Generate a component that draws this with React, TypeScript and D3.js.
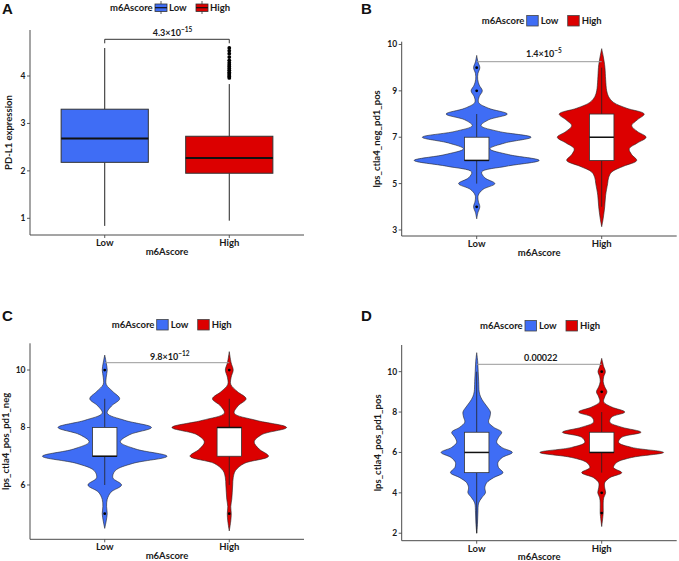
import React from "react";
import * as d3 from "d3";

// ---------- data ----------
const GROUPS = ["Low", "High"];
const FILLS = ["#3F6DF5", "#DC0000"];
const LEGEND_TITLE = "m6Ascore";

// Panel A (boxplot): [min, q1, median, q3, max]
const A_TICKS = [1, 2, 3, 4];
const A_BOX_LOW = [0.84, 2.18, 2.68, 3.3, 4.59];
const A_BOX_HIGH = [0.95, 1.95, 2.27, 2.73, 3.83];
const A_OUT_LOW: number[] = [];
const A_OUT_HIGH = [3.96, 3.99, 4.02, 4.05, 4.08, 4.12, 4.16, 4.2, 4.24, 4.28, 4.33, 4.4, 4.47, 4.53, 4.59];
const A_P = ["4.3×10", "−15"];
const A_YLABEL = "PD-L1 expression";

// Panel B (violin)
const B_TICKS = [3, 5, 7, 9, 11];
const B_TICK_LABELS = ["3", "5", "7", "9", "10"];
const B_LOW_Y = [10.53, 10.25, 10, 9.75, 9.5, 9.25, 9, 8.75, 8.5, 8.25, 8, 7.75, 7.5, 7.25, 7, 6.75, 6.5, 6.25, 6, 5.75, 5.5, 5.25, 5, 4.75, 4.5, 4.25, 4, 3.75, 3.48];
const B_LOW_D = [0, 0.02, 0.05, 0.02, 0.016, 0.04, 0.09, 0.04, 0.03, 0.19, 0.49, 0.19, 0.07, 0.35, 0.87, 0.45, 0.21, 0.51, 1.0, 0.48, 0.08, 0.13, 0.29, 0.1, 0.025, 0.025, 0.05, 0.02, 0];
const B_HIGH_Y = [10.82, 10.5, 10.25, 10, 9.5, 9, 8.75, 8.5, 8.25, 8, 7.75, 7.5, 7.25, 7, 6.75, 6.5, 6.25, 6, 5.75, 5.5, 5.25, 5, 4.5, 4, 3.5, 3.14];
const B_HIGH_D = [0, 0.024, 0.04, 0.052, 0.063, 0.08, 0.11, 0.19, 0.4, 0.68, 0.57, 0.48, 0.57, 0.71, 0.57, 0.44, 0.48, 0.56, 0.35, 0.16, 0.11, 0.095, 0.063, 0.048, 0.024, 0];
const B_BOX_LOW = [5, 6, 6, 7, 8];
const B_BOX_HIGH = [4, 6, 7, 8, 10];
const B_OUT_LOW = [4, 9, 10];
const B_OUT_HIGH: number[] = [];
const B_P = ["1.4×10", "−5"];
const B_YLABEL = "lps_ctla4_neg_pd1_pos";

// Panel C (violin)
const C_TICKS = [6, 8, 10];
const C_LOW_Y = [10.52, 10.25, 10, 9.75, 9.5, 9.25, 9, 8.75, 8.5, 8.25, 8, 7.75, 7.5, 7.25, 7, 6.75, 6.5, 6.25, 6, 5.75, 5.5, 5.25, 5, 4.75, 4.49];
const C_LOW_D = [0, 0.024, 0.04, 0.024, 0.024, 0.13, 0.24, 0.11, 0.04, 0.32, 0.75, 0.4, 0.25, 0.5, 1.0, 0.45, 0.17, 0.13, 0.27, 0.1, 0.04, 0.03, 0.04, 0.024, 0];
const C_HIGH_Y = [10.64, 10.25, 10, 9.75, 9.5, 9.25, 9, 8.75, 8.5, 8.25, 8, 7.75, 7.5, 7.25, 7, 6.75, 6.5, 6.25, 6, 5.75, 5.5, 5.25, 5, 4.75, 4.4];
const C_HIGH_D = [0, 0.03, 0.063, 0.03, 0.024, 0.13, 0.27, 0.14, 0.08, 0.43, 0.92, 0.52, 0.4, 0.48, 0.63, 0.24, 0.1, 0.063, 0.055, 0.048, 0.04, 0.024, 0.032, 0.024, 0];
const C_BOX_LOW = [6, 7, 7, 8, 9];
const C_BOX_HIGH = [6, 7, 8, 8, 9];
const C_OUT_LOW = [5, 10];
const C_OUT_HIGH = [5, 10];
const C_P = ["9.8×10", "−12"];
const C_YLABEL = "lps_ctla4_pos_pd1_neg";

// Panel D (violin)
const D_TICKS = [2, 4, 6, 8, 10];
const D_LOW_Y = [10.94, 10.5, 10, 9.5, 9, 8.75, 8.5, 8.25, 8, 7.75, 7.5, 7.25, 7, 6.75, 6.5, 6.25, 6, 5.75, 5.5, 5.25, 5, 4.75, 4.5, 4.25, 4, 3.75, 3.5, 3, 2.5, 2.0];
const D_LOW_D = [0, 0.016, 0.024, 0.032, 0.04, 0.063, 0.11, 0.17, 0.22, 0.21, 0.19, 0.27, 0.4, 0.35, 0.32, 0.4, 0.57, 0.41, 0.34, 0.35, 0.42, 0.27, 0.16, 0.13, 0.14, 0.08, 0.032, 0.019, 0.013, 0];
const D_HIGH_Y = [10.66, 10.25, 10, 9.75, 9.5, 9.25, 9, 8.75, 8.5, 8.25, 8, 7.75, 7.5, 7.25, 7, 6.75, 6.5, 6.25, 6, 5.75, 5.5, 5.25, 5, 4.75, 4.5, 4.25, 4, 3.75, 3.5, 3.25, 3, 2.33];
const D_HIGH_D = [0, 0.032, 0.059, 0.032, 0.024, 0.048, 0.084, 0.048, 0.032, 0.16, 0.37, 0.16, 0.13, 0.32, 0.63, 0.32, 0.27, 0.48, 0.99, 0.48, 0.24, 0.19, 0.32, 0.13, 0.048, 0.048, 0.063, 0.032, 0.024, 0.024, 0.024, 0];
const D_BOX_LOW = [2, 5, 6, 7, 10];
const D_BOX_HIGH = [5, 6, 6, 7, 8];
const D_OUT_LOW: number[] = [];
const D_OUT_HIGH = [3, 4, 9, 10];
const D_P = ["0.00022", ""];
const D_YLABEL = "lps_ctla4_pos_pd1_pos";

// ---------- style / layout ----------
const FONT = "Lato, 'Open Sans', sans-serif";
const TXT = "#1a1a1a";
const AXIS = "#4a4a4a";

type PanelProps = {
  letter: string;
  left: number; right: number; top: number; bottom: number;
  domain: [number, number];
  ticks: number[]; tickLabels?: string[];
  ylabel: string; ylabelX: number;
  kind: "box" | "violin";
  boxes: number[][]; outliers: number[][];
  vy?: number[][]; vd?: number[][];
  p: string[]; pY: number; pX: number; pAnchor: "start" | "middle";
  bracketY: number; bracketTicks: boolean;
  legendY: number; legendX: number;
  letterX: number; letterY: number;
};

function Panel(pr: PanelProps) {
  const y = d3.scaleLinear().domain(pr.domain).range([pr.bottom, pr.top]);
  const x = d3.scalePoint<string>().domain(GROUPS).range([pr.left, pr.right]).padding(0.6);
  const step = x.step();
  const w = d3.scaleLinear().domain([0, 1]).range([0, step * 0.5]);
  const bw = pr.kind === "box" ? step * 0.7 : step * 0.196;
  const area = d3
    .area<[number, number]>()
    .y((d) => y(d[0]))
    .x0((d) => -w(d[1]))
    .x1((d) => w(d[1]))
    .curve(d3.curveCatmullRom.alpha(0.5));
  const cxs = GROUPS.map((g) => x(g) as number);
  const lx = pr.legendX;
  return (
    <g fontFamily={FONT} fontWeight={700}>
      <text x={pr.letterX} y={pr.letterY} fontFamily="'Liberation Sans', Arial, sans-serif" fontWeight={700} fontSize={15} fill="#111">
        {pr.letter}
      </text>
      {/* legend */}
      <g>
        <text x={lx} y={pr.legendY + 3.3} fontSize={9.5} fill={TXT}>{LEGEND_TITLE}</text>
        {GROUPS.map((g, i) => {
          const kx = lx + 45 + i * 41;
          const ky = pr.legendY - 5;
          return (
            <g key={g}>
              {pr.kind === "box" ? (
                <g>
                  <line x1={kx + 6} x2={kx + 6} y1={ky - 1.5} y2={ky + 11.5} stroke="#333" strokeWidth={0.8} />
                  <rect x={kx} y={ky + 1.5} width={12} height={7.5} fill={FILLS[i]} stroke="#333" strokeWidth={0.8} />
                  <line x1={kx} x2={kx + 12} y1={ky + 5.2} y2={ky + 5.2} stroke="#111" strokeWidth={1.2} />
                </g>
              ) : (
                <rect x={kx} y={ky} width={11.5} height={10.5} fill={FILLS[i]} stroke="#444" strokeWidth={0.8} />
              )}
              <text x={kx + 14} y={pr.legendY + 3.3} fontSize={9.5} fill={TXT}>{g}</text>
            </g>
          );
        })}
      </g>
      {/* axes */}
      <line x1={pr.left} x2={pr.left} y1={pr.top} y2={pr.bottom} stroke={AXIS} strokeWidth={1} />
      <line x1={pr.left} x2={pr.right} y1={pr.bottom} y2={pr.bottom} stroke={AXIS} strokeWidth={1} />
      {pr.ticks.map((t, i) => (
        <g key={t}>
          <line x1={pr.left - 3} x2={pr.left} y1={y(t)} y2={y(t)} stroke={AXIS} strokeWidth={0.9} />
          <text x={pr.left - 4.5} y={y(t)} dy="0.35em" textAnchor="end" fontSize={8.5} fill={TXT}>
            {pr.tickLabels ? pr.tickLabels[i] : String(t)}
          </text>
        </g>
      ))}
      {GROUPS.map((g, i) => (
        <g key={g}>
          <line x1={cxs[i]} x2={cxs[i]} y1={pr.bottom} y2={pr.bottom + 3} stroke={AXIS} strokeWidth={0.9} />
          <text x={cxs[i]} y={pr.bottom + 10.8} textAnchor="middle" fontSize={9.5} fill={TXT}>{g}</text>
        </g>
      ))}
      <text x={(pr.left + pr.right) / 2} y={pr.bottom + 19.6} textAnchor="middle" fontSize={9.5} fill={TXT}>
        {LEGEND_TITLE}
      </text>
      <text
        transform={`translate(${pr.ylabelX},${(pr.top + pr.bottom) / 2}) rotate(-90)`}
        textAnchor="middle"
        fontSize={9.5}
        fill={TXT}
      >
        {pr.ylabel}
      </text>
      {/* marks */}
      {GROUPS.map((g, i) => {
        const cx = cxs[i];
        const b = pr.boxes[i];
        return (
          <g key={g}>
            {pr.kind === "violin" && pr.vy && pr.vd && (
              <path
                transform={`translate(${cx},0)`}
                d={area(pr.vy[i].map((v, k) => [v, pr.vd![i][k]] as [number, number])) || ""}
                fill={FILLS[i]}
                stroke="#222"
                strokeWidth={0.6}
              />
            )}
            <line x1={cx} x2={cx} y1={y(b[4])} y2={y(b[3])} stroke="#222" strokeWidth={pr.kind === "box" ? 1 : 0.8} />
            <line x1={cx} x2={cx} y1={y(b[1])} y2={y(b[0])} stroke="#222" strokeWidth={pr.kind === "box" ? 1 : 0.8} />
            <rect
              x={cx - bw / 2}
              y={y(b[3])}
              width={bw}
              height={y(b[1]) - y(b[3])}
              fill={pr.kind === "box" ? FILLS[i] : "#fff"}
              stroke="#333"
              strokeWidth={pr.kind === "box" ? 1 : 0.8}
            />
            <line x1={cx - bw / 2} x2={cx + bw / 2} y1={y(b[2])} y2={y(b[2])} stroke="#111" strokeWidth={pr.kind === "box" ? 2 : 1.5} />
            {pr.outliers[i].map((o, k) => (
              <circle key={k} cx={cx} cy={y(o)} r={pr.kind === "box" ? 1.9 : 1.4} fill="#000" />
            ))}
          </g>
        );
      })}
      {/* significance bracket */}
      <line x1={cxs[0]} x2={cxs[1]} y1={pr.bracketY} y2={pr.bracketY} stroke={pr.bracketTicks ? "#333" : "#999"} strokeWidth={1} />
      {pr.bracketTicks && (
        <g>
          <line x1={cxs[0]} x2={cxs[0]} y1={pr.bracketY} y2={pr.bracketY + 4} stroke="#333" strokeWidth={1} />
          <line x1={cxs[1]} x2={cxs[1]} y1={pr.bracketY} y2={pr.bracketY + 4} stroke="#333" strokeWidth={1} />
        </g>
      )}
      <text x={pr.pX} y={pr.pY} textAnchor={pr.pAnchor} fontSize={9} fill={TXT}>
        {pr.p[0]}
        {pr.p[1] && (
          <tspan dy={-3.6} fontSize={6.5}>{pr.p[1]}</tspan>
        )}
      </text>
    </g>
  );
}

export default function App() {
  return (
    <svg width={679} height={561} style={{ position: "absolute", left: 0, top: 0, background: "#fff" }}>
      <rect width={679} height={561} fill="#fff" />
      <Panel
        letter="A" letterX={2} letterY={14}
        left={30} right={304} top={30} bottom={235} domain={[0.648, 4.97]}
        ticks={A_TICKS} ylabel={A_YLABEL} ylabelX={11.5}
        kind="box" boxes={[A_BOX_LOW, A_BOX_HIGH]} outliers={[A_OUT_LOW, A_OUT_HIGH]}
        p={A_P} pX={152.7} pY={36} pAnchor="start" bracketY={39.3} bracketTicks={true}
        legendX={110} legendY={7.5}
      />
      <Panel
        letter="B" letterX={361} letterY={14}
        left={401.7} right={676.7} top={41.7} bottom={236} domain={[2.74, 11.12]}
        ticks={B_TICKS} tickLabels={B_TICK_LABELS} ylabel={B_YLABEL} ylabelX={380}
        kind="violin" boxes={[B_BOX_LOW, B_BOX_HIGH]} outliers={[B_OUT_LOW, B_OUT_HIGH]}
        vy={[B_LOW_Y, B_HIGH_Y]} vd={[B_LOW_D, B_HIGH_D]}
        p={B_P} pX={526} pY={56.5} pAnchor="start" bracketY={61.7} bracketTicks={false}
        legendX={481.7} legendY={20.5}
      />
      <Panel
        letter="C" letterX={2} letterY={320.7}
        left={30} right={304} top={343.3} bottom={539.3} domain={[4.11, 10.93]}
        ticks={C_TICKS} ylabel={C_YLABEL} ylabelX={8.5}
        kind="violin" boxes={[C_BOX_LOW, C_BOX_HIGH]} outliers={[C_OUT_LOW, C_OUT_HIGH]}
        vy={[C_LOW_Y, C_HIGH_Y]} vd={[C_LOW_D, C_HIGH_D]}
        p={C_P} pX={150} pY={359.5} pAnchor="start" bracketY={362.7} bracketTicks={false}
        legendX={111.7} legendY={324.5}
      />
      <Panel
        letter="D" letterX={361} letterY={320.7}
        left={401.7} right={676.7} top={345} bottom={540.7} domain={[1.63, 11.32]}
        ticks={D_TICKS} ylabel={D_YLABEL} ylabelX={381}
        kind="violin" boxes={[D_BOX_LOW, D_BOX_HIGH]} outliers={[D_OUT_LOW, D_OUT_HIGH]}
        vy={[D_LOW_Y, D_HIGH_Y]} vd={[D_LOW_D, D_HIGH_D]}
        p={D_P} pX={540.8} pY={361} pAnchor="middle" bracketY={364.3} bracketTicks={false}
        legendX={480} legendY={325.5}
      />
    </svg>
  );
}
